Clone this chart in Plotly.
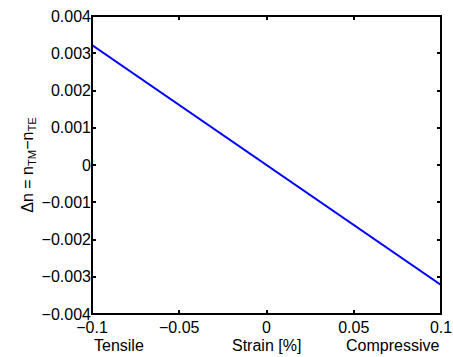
import plotly.graph_objects as go

strain = [-0.1, -0.05, 0.0, 0.05, 0.1]
delta_n = [0.00322, 0.00161, 0.0, -0.00161, -0.00322]
x_ticks = [-0.1, -0.05, 0, 0.05, 0.1]
x_tick_labels = ["\u22120.1", "\u22120.05", "0", "0.05", "0.1"]
y_ticks = [-0.004, -0.003, -0.002, -0.001, 0, 0.001, 0.002, 0.003, 0.004]
y_tick_labels = ["\u22120.004", "\u22120.003", "\u22120.002", "\u22120.001", "0",
                 "0.001", "0.002", "0.003", "0.004"]

font = "Liberation Sans, Arial, sans-serif"
fs = 16

fig = go.Figure()
fig.add_trace(go.Scatter(x=strain, y=delta_n, mode="lines",
                         line=dict(color="#0000ff", width=2), showlegend=False,
                         cliponaxis=False))

axis_common = dict(showgrid=False, zeroline=False, showline=False, automargin=False,
                   ticks="inside", ticklen=4, tickwidth=1.5,
                   tickcolor="black", mirror="ticks", ticklabeloverflow="allow",
                   tickfont=dict(family=font, size=fs, color="black"))

fig.update_xaxes(range=[-0.1, 0.1], tickvals=x_ticks, ticktext=x_tick_labels,
                 ticklabelstandoff=2, **axis_common)
fig.update_yaxes(range=[-0.004, 0.004], tickvals=y_ticks, ticktext=y_tick_labels,
                 title=dict(text="\u0394n = n<sub>TM</sub>\u2212n<sub>TE</sub>",
                            font=dict(family=font, size=fs, color="#000000"), standoff=4),
                 **axis_common)

fig.add_shape(type="rect", xref="paper", yref="paper", x0=0, x1=1, y0=0, y1=1,
              line=dict(color="black", width=2), layer="above")

for xv, label, anchor in [(-0.1, "Tensile", "left"), (0, "Strain [%]", "center"),
                          (0.1, "Compressive", "right")]:
    fig.add_annotation(x=xv, y=0, xref="x", yref="paper", yshift=-21, text=label,
                       showarrow=False, xanchor=anchor, yanchor="top",
                       font=dict(family=font, size=fs, color="black"))

fig.update_layout(width=453, height=357, margin=dict(l=92, r=12, t=16, b=43, autoexpand=False),
                  paper_bgcolor="white", plot_bgcolor="white")

fig.write_html("out.html")
